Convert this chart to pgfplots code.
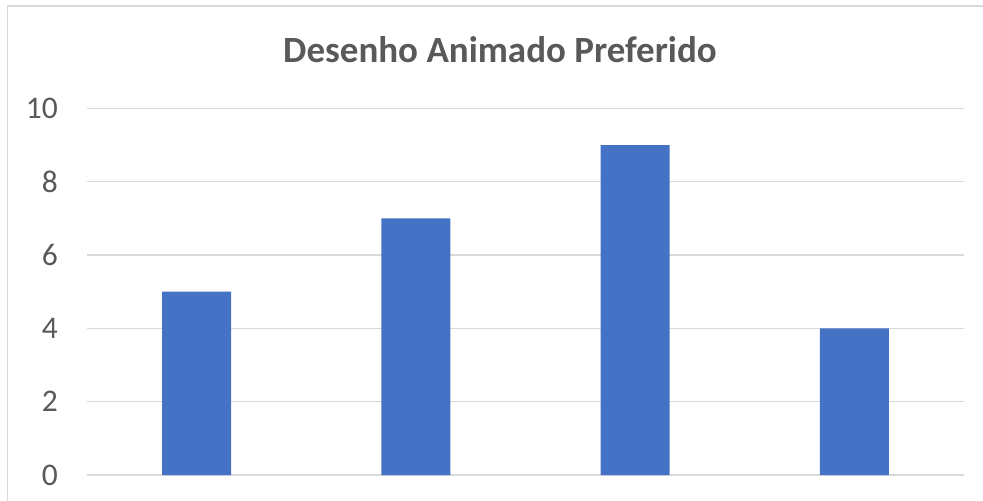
\documentclass[border=0pt]{standalone}
\usepackage{fontspec}
\setmainfont{Carlito}
\usepackage{pgfplots}
\pgfplotsset{compat=1.18}
\definecolor{barblue}{HTML}{4472C4}
\definecolor{txtgray}{HTML}{595959}
\definecolor{gridgray}{HTML}{D9D9D9}
\begin{document}
\begin{tikzpicture}
\useasboundingbox (-87bp,-26bp) rectangle (896bp,475bp);
\draw[gridgray, line width=1.8bp] (-79.5bp,-30bp) -- (-79.5bp,469.3bp) -- (900bp,469.3bp);
\begin{axis}[
  at={(0,0)}, anchor=south west,
  scale only axis,
  width=877bp, height=366.5bp,
  xmin=-0.5, xmax=3.5,
  ymin=0, ymax=10,
  xtick=\empty,
  ytick={0,2,4,6,8,10},
  ymajorgrids,
  major grid style={gridgray, line width=1.4bp},
  axis line style={draw=none},
  tick style={draw=none},
  clip=false,
  /pgf/number format/assume math mode=true,
  yticklabel style={font=\fontsize{31.5bp}{36bp}\selectfont, text=txtgray, anchor=east, inner sep=0pt, xshift=-29bp},
  ybar, bar width=69bp,
]
\addplot[fill=barblue, draw=none] coordinates {(0,5) (1,7) (2,9) (3,4)};
\end{axis}
\node[anchor=base, text=txtgray, font=\fontsize{37bp}{44bp}\selectfont\bfseries, inner sep=0pt] at (413bp,412bp) {Desenho Animado Preferido};
\end{tikzpicture}
\end{document}
